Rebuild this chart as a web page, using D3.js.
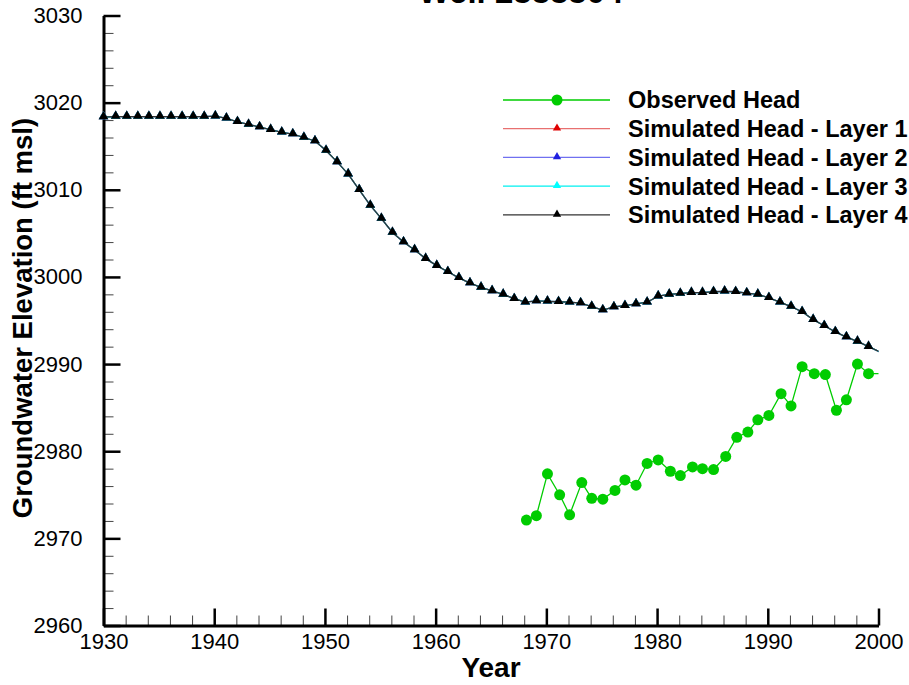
<!DOCTYPE html>
<html>
<head>
<meta charset="utf-8">
<script src="https://cdn.jsdelivr.net/npm/d3@7"></script>
<style>
  body { margin: 0; background: #fff; }
  svg { display: block; font-family: "Liberation Sans", Arial, sans-serif; }
</style>
</head>
<body>
<div id="chart"></div>
<script>
const width = 909;
const height = 685;

const titleText = 'Well 2333304';
const xTitle = 'Year';
const yTitle = 'Groundwater Elevation (ft msl)';

const xTicks = [1930, 1940, 1950, 1960, 1970, 1980, 1990, 2000];
const yTicks = [2960, 2970, 2980, 2990, 3000, 3010, 3020, 3030];

// observed water levels (decimal years)
const obsYears = [1968.2, 1969.1, 1970.1, 1971.2, 1972.1, 1973.2, 1974.1, 1975.1, 1976.2, 1977.1,
    1978.1, 1979.1, 1980.1, 1981.2, 1982.1, 1983.2, 1984.1, 1985.1, 1986.2, 1987.2,
    1988.2, 1989.1, 1990.1, 1991.2, 1992.1, 1993.1, 1994.2, 1995.2, 1996.2, 1997.1,
    1998.1, 1999.1, 2000.1];
const obsHead = [2972.1, 2972.6, 2977.4, 2975.0, 2972.7, 2976.4, 2974.6, 2974.5, 2975.5, 2976.7,
    2976.1, 2978.6, 2979.0, 2977.7, 2977.2, 2978.2, 2978.0, 2977.9, 2979.4, 2981.6,
    2982.2, 2983.6, 2984.1, 2986.6, 2985.2, 2989.7, 2988.9, 2988.8, 2984.7, 2985.9,
    2990.0, 2988.9, 2988.9];

// model output, one value per stress period
const simYears = [1930.0, 1931.1, 1932.1, 1933.1, 1934.1, 1935.1, 1936.1, 1937.1, 1938.1, 1939.1,
    1940.1, 1941.1, 1942.1, 1943.1, 1944.1, 1945.1, 1946.1, 1947.1, 1948.1, 1949.1,
    1950.1, 1951.1, 1952.1, 1953.1, 1954.1, 1955.1, 1956.1, 1957.1, 1958.1, 1959.1,
    1960.1, 1961.1, 1962.1, 1963.1, 1964.1, 1965.1, 1966.1, 1967.1, 1968.1, 1969.1,
    1970.1, 1971.1, 1972.1, 1973.1, 1974.1, 1975.1, 1976.1, 1977.1, 1978.1, 1979.1,
    1980.1, 1981.1, 1982.1, 1983.1, 1984.1, 1985.1, 1986.1, 1987.1, 1988.1, 1989.1,
    1990.1, 1991.1, 1992.1, 1993.1, 1994.1, 1995.1, 1996.1, 1997.1, 1998.1, 1999.1,
    2000.1];
// the four layers plot on top of each other at this scale
const simLayer4 = [3018.35, 3018.4, 3018.4, 3018.4, 3018.4, 3018.4, 3018.4, 3018.4, 3018.4, 3018.4,
    3018.45, 3018.2, 3017.8, 3017.5, 3017.2, 3016.9, 3016.6, 3016.4, 3016.0, 3015.6,
    3014.5, 3013.2, 3011.8, 3010.0, 3008.2, 3006.7, 3005.1, 3004.0, 3003.1, 3002.1,
    3001.3, 3000.6, 2999.9, 2999.3, 2998.8, 2998.4, 2998.0, 2997.5, 2997.1, 2997.25,
    2997.2, 2997.15, 2997.1, 2997.0, 2996.6, 2996.2, 2996.55, 2996.7, 2996.9, 2997.1,
    2997.8, 2998.0, 2998.1, 2998.2, 2998.2, 2998.3, 2998.35, 2998.3, 2998.15, 2998.0,
    2997.6, 2997.1, 2996.6, 2996.0, 2995.1, 2994.4, 2993.7, 2993.1, 2992.6, 2992.0,
    2991.4];
const simLayer1 = simLayer4.slice();
const simLayer2 = simLayer4.slice();
const simLayer3 = simLayer4.slice();

const series = [
    {name: 'Observed Head', years: obsYears, values: obsHead, color: '#00cc00', marker: 'circle'},
    {name: 'Simulated Head - Layer 1', years: simYears, values: simLayer1, color: '#e00000', line: '#e87070', marker: 'triangle'},
    {name: 'Simulated Head - Layer 2', years: simYears, values: simLayer2, color: '#2020e0', line: '#7070f0', marker: 'triangle'},
    {name: 'Simulated Head - Layer 3', years: simYears, values: simLayer3, color: '#00ffff', line: '#00f0f0', marker: 'triangle'},
    {name: 'Simulated Head - Layer 4', years: simYears, values: simLayer4, color: '#000000', line: '#333333', marker: 'triangle'},
];

const frame = {left: 103.5, right: 878.5, top: 15.5, bottom: 625.5};

const x = d3.scaleLinear().domain([1930, 2000]).range([frame.left, frame.right]);
const y = d3.scaleLinear().domain([2960, 3030]).range([frame.bottom, frame.top]);

const svg = d3.select('#chart').append('svg')
    .attr('width', width)
    .attr('height', height);

svg.append('rect').attr('width', width).attr('height', height).attr('fill', '#fff');

svg.append('defs').append('clipPath').attr('id', 'plot-clip')
    .append('rect')
    .attr('x', frame.left).attr('y', frame.top)
    .attr('width', frame.right - frame.left).attr('height', frame.bottom - frame.top);

// title sits mostly above the page edge, as in the original export
svg.append('text')
    .attr('x', 521)
    .attr('y', 3)
    .attr('text-anchor', 'middle')
    .style('font-size', '33px')
    .style('font-weight', 'bold')
    .text(titleText);

// minor ticks first so the majors draw over them
const minorX = d3.range(1930, 2001, 2).filter(d => d % 10 !== 0);
const minorY = d3.range(2960, 3031, 2).filter(d => d % 10 !== 0);

svg.append('g')
    .attr('transform', `translate(0,${frame.bottom})`)
    .call(d3.axisBottom(x).tickValues(minorX).tickSizeInner(-10).tickSizeOuter(0).tickFormat(''))
    .call(g => g.select('.domain').remove())
    .call(g => g.selectAll('line').attr('stroke', '#444').attr('stroke-width', 1));

svg.append('g')
    .attr('transform', `translate(${frame.left},0)`)
    .call(d3.axisLeft(y).tickValues(minorY).tickSizeInner(-10).tickSizeOuter(0).tickFormat(''))
    .call(g => g.select('.domain').remove())
    .call(g => g.selectAll('line').attr('stroke', '#444').attr('stroke-width', 1));

const xAxis = svg.append('g')
    .attr('transform', `translate(0,${frame.bottom})`)
    .call(d3.axisBottom(x).tickValues(xTicks).tickSizeInner(-17).tickSizeOuter(0).tickPadding(8).tickFormat(d3.format('d')));

const yAxis = svg.append('g')
    .attr('transform', `translate(${frame.left},0)`)
    .call(d3.axisLeft(y).tickValues(yTicks).tickSizeInner(-17).tickSizeOuter(0).tickPadding(21).tickFormat(d3.format('d')));

[xAxis, yAxis].forEach(g => {
    g.select('.domain').attr('stroke', '#000').attr('stroke-width', 3);
    g.selectAll('.tick line').attr('stroke', '#000').attr('stroke-width', 2.5);
    g.selectAll('.tick text')
        .attr('fill', '#000')
        .style('font-size', '22px')
        .style('font-family', '"Liberation Sans", Arial, sans-serif');
});

// axis titles
svg.append('text')
    .attr('x', 491)
    .attr('y', 677)
    .attr('text-anchor', 'middle')
    .style('font-size', '28px')
    .style('font-weight', 'bold')
    .text(xTitle);

svg.append('text')
    .attr('transform', 'translate(32,318) rotate(-90)')
    .attr('text-anchor', 'middle')
    .style('font-size', '27.5px')
    .style('font-weight', 'bold')
    .text(yTitle);

function drawMarkers(g, s, pts, size) {
    if (s.marker === 'circle') {
        g.selectAll('circle')
            .data(pts)
            .join('circle')
            .attr('cx', d => d[0])
            .attr('cy', d => d[1])
            .attr('r', size)
            .attr('fill', s.color);
    } else {
        g.selectAll('path.mark')
            .data(pts)
            .join('path')
            .attr('class', 'mark')
            .attr('transform', d => `translate(${d[0]},${d[1] - 0.5})`)
            .attr('d', d3.symbol().type(d3.symbolTriangle).size(size)())
            .attr('fill', s.color);
    }
}

const line = d3.line();

// plot series: layers first, observed last
const drawOrder = [1, 2, 3, 4, 0];
drawOrder.forEach(i => {
    const s = series[i];
    const pts = s.years.map((yr, j) => [x(yr), y(s.values[j])]);
    const g = svg.append('g');
    g.append('path')
        .attr('d', line(pts))
        .attr('clip-path', 'url(#plot-clip)')
        .attr('fill', 'none')
        .attr('stroke', s.line || s.color)
        .attr('stroke-width', 1.3);
    // points outside the frame are not drawn
    const inside = pts.filter((p, j) => s.years[j] >= 1930 && s.years[j] <= 2000);
    drawMarkers(g, s, inside, s.marker === 'circle' ? 5.5 : 40);
});

// legend
const legend = svg.append('g');
series.forEach((s, i) => {
    const ly = 100 + i * 28.7;
    const g = legend.append('g');
    g.append('line')
        .attr('x1', 503).attr('x2', 610)
        .attr('y1', ly).attr('y2', ly)
        .attr('stroke', s.line || s.color)
        .attr('stroke-width', 1.3);
    drawMarkers(g, s, [[557, ly]], s.marker === 'circle' ? 5.5 : 30);
    g.append('text')
        .attr('x', 628)
        .attr('y', ly)
        .attr('dy', '0.36em')
        .style('font-size', '23.5px')
        .style('font-weight', 'bold')
        .text(s.name);
});
</script>
</body>
</html>
